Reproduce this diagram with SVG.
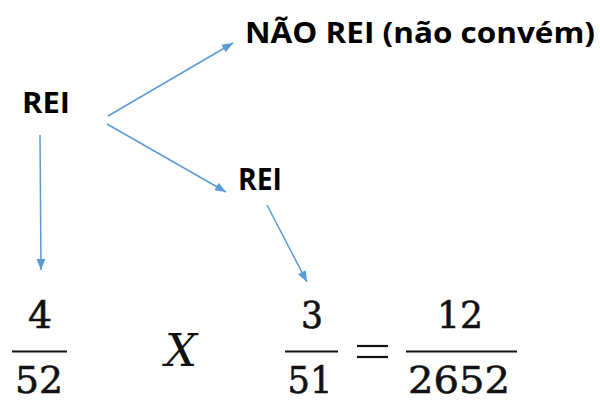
<svg xmlns="http://www.w3.org/2000/svg" width="600" height="400" viewBox="0 0 600 400">
<defs>
<style>
.lbl{font-family:"Open Sans","Liberation Sans",sans-serif;font-weight:bold;fill:#000}
.num{font-family:"DejaVu Serif","Liberation Serif",serif;font-size:37px;fill:#111;stroke:#111;stroke-width:0.6;text-anchor:middle}
.var{font-family:"DejaVu Serif","Liberation Serif",serif;font-style:italic;font-size:45px;fill:#111}
.bar{stroke:#111;stroke-width:2.2}
.arr{stroke:#5b9bd5;stroke-width:1.5;fill:none;marker-end:url(#ah)}
</style>
<marker id="ah" viewBox="0 0 10 8" refX="10" refY="4" markerWidth="11" markerHeight="9" markerUnits="userSpaceOnUse" orient="auto">
<path d="M0,0 L10,4 L0,8 Z" fill="#5b9bd5"/>
</marker>
</defs>
<rect width="600" height="400" fill="#fff"/>
<g id="connectors">
<line class="arr" x1="108" y1="116" x2="233" y2="43"/>
<line class="arr" x1="107" y1="124" x2="226" y2="192"/>
<line class="arr" x1="40" y1="135" x2="41" y2="270"/>
<line class="arr" x1="267" y1="205" x2="307" y2="282"/>
</g>
<g id="rei-root"><text class="lbl" x="22" y="113" font-size="28" textLength="48" lengthAdjust="spacingAndGlyphs">REI</text></g>
<g id="nao-rei"><text class="lbl" x="245" y="43" font-size="29" textLength="350" lengthAdjust="spacingAndGlyphs">NÃO REI (não convém)</text></g>
<g id="rei-child"><text class="lbl" x="238" y="190" font-size="30" textLength="44" lengthAdjust="spacingAndGlyphs">REI</text></g>
<g id="frac1">
<text class="num" x="40" y="328" textLength="24" lengthAdjust="spacingAndGlyphs">4</text>
<line class="bar" x1="12" y1="351.5" x2="67" y2="351.5"/>
<text class="num" x="39" y="393" textLength="48" lengthAdjust="spacingAndGlyphs">52</text>
</g>
<g id="times"><text class="var" x="165" y="366">X</text></g>
<g id="frac2">
<text class="num" x="312" y="328" textLength="22" lengthAdjust="spacingAndGlyphs">3</text>
<line class="bar" x1="285" y1="351.5" x2="338" y2="351.5"/>
<text class="num" x="310" y="393" textLength="45" lengthAdjust="spacingAndGlyphs">51</text>
</g>
<g id="equals">
<line class="bar" x1="357" y1="346" x2="388" y2="346" stroke-width="2.5"/>
<line class="bar" x1="357" y1="357" x2="388" y2="357" stroke-width="2.5"/>
</g>
<g id="frac3">
<text class="num" x="460" y="328" textLength="46" lengthAdjust="spacingAndGlyphs">12</text>
<line class="bar" x1="406" y1="351.5" x2="517" y2="351.5"/>
<text class="num" x="459" y="393" textLength="102" lengthAdjust="spacingAndGlyphs">2652</text>
</g>
</svg>
